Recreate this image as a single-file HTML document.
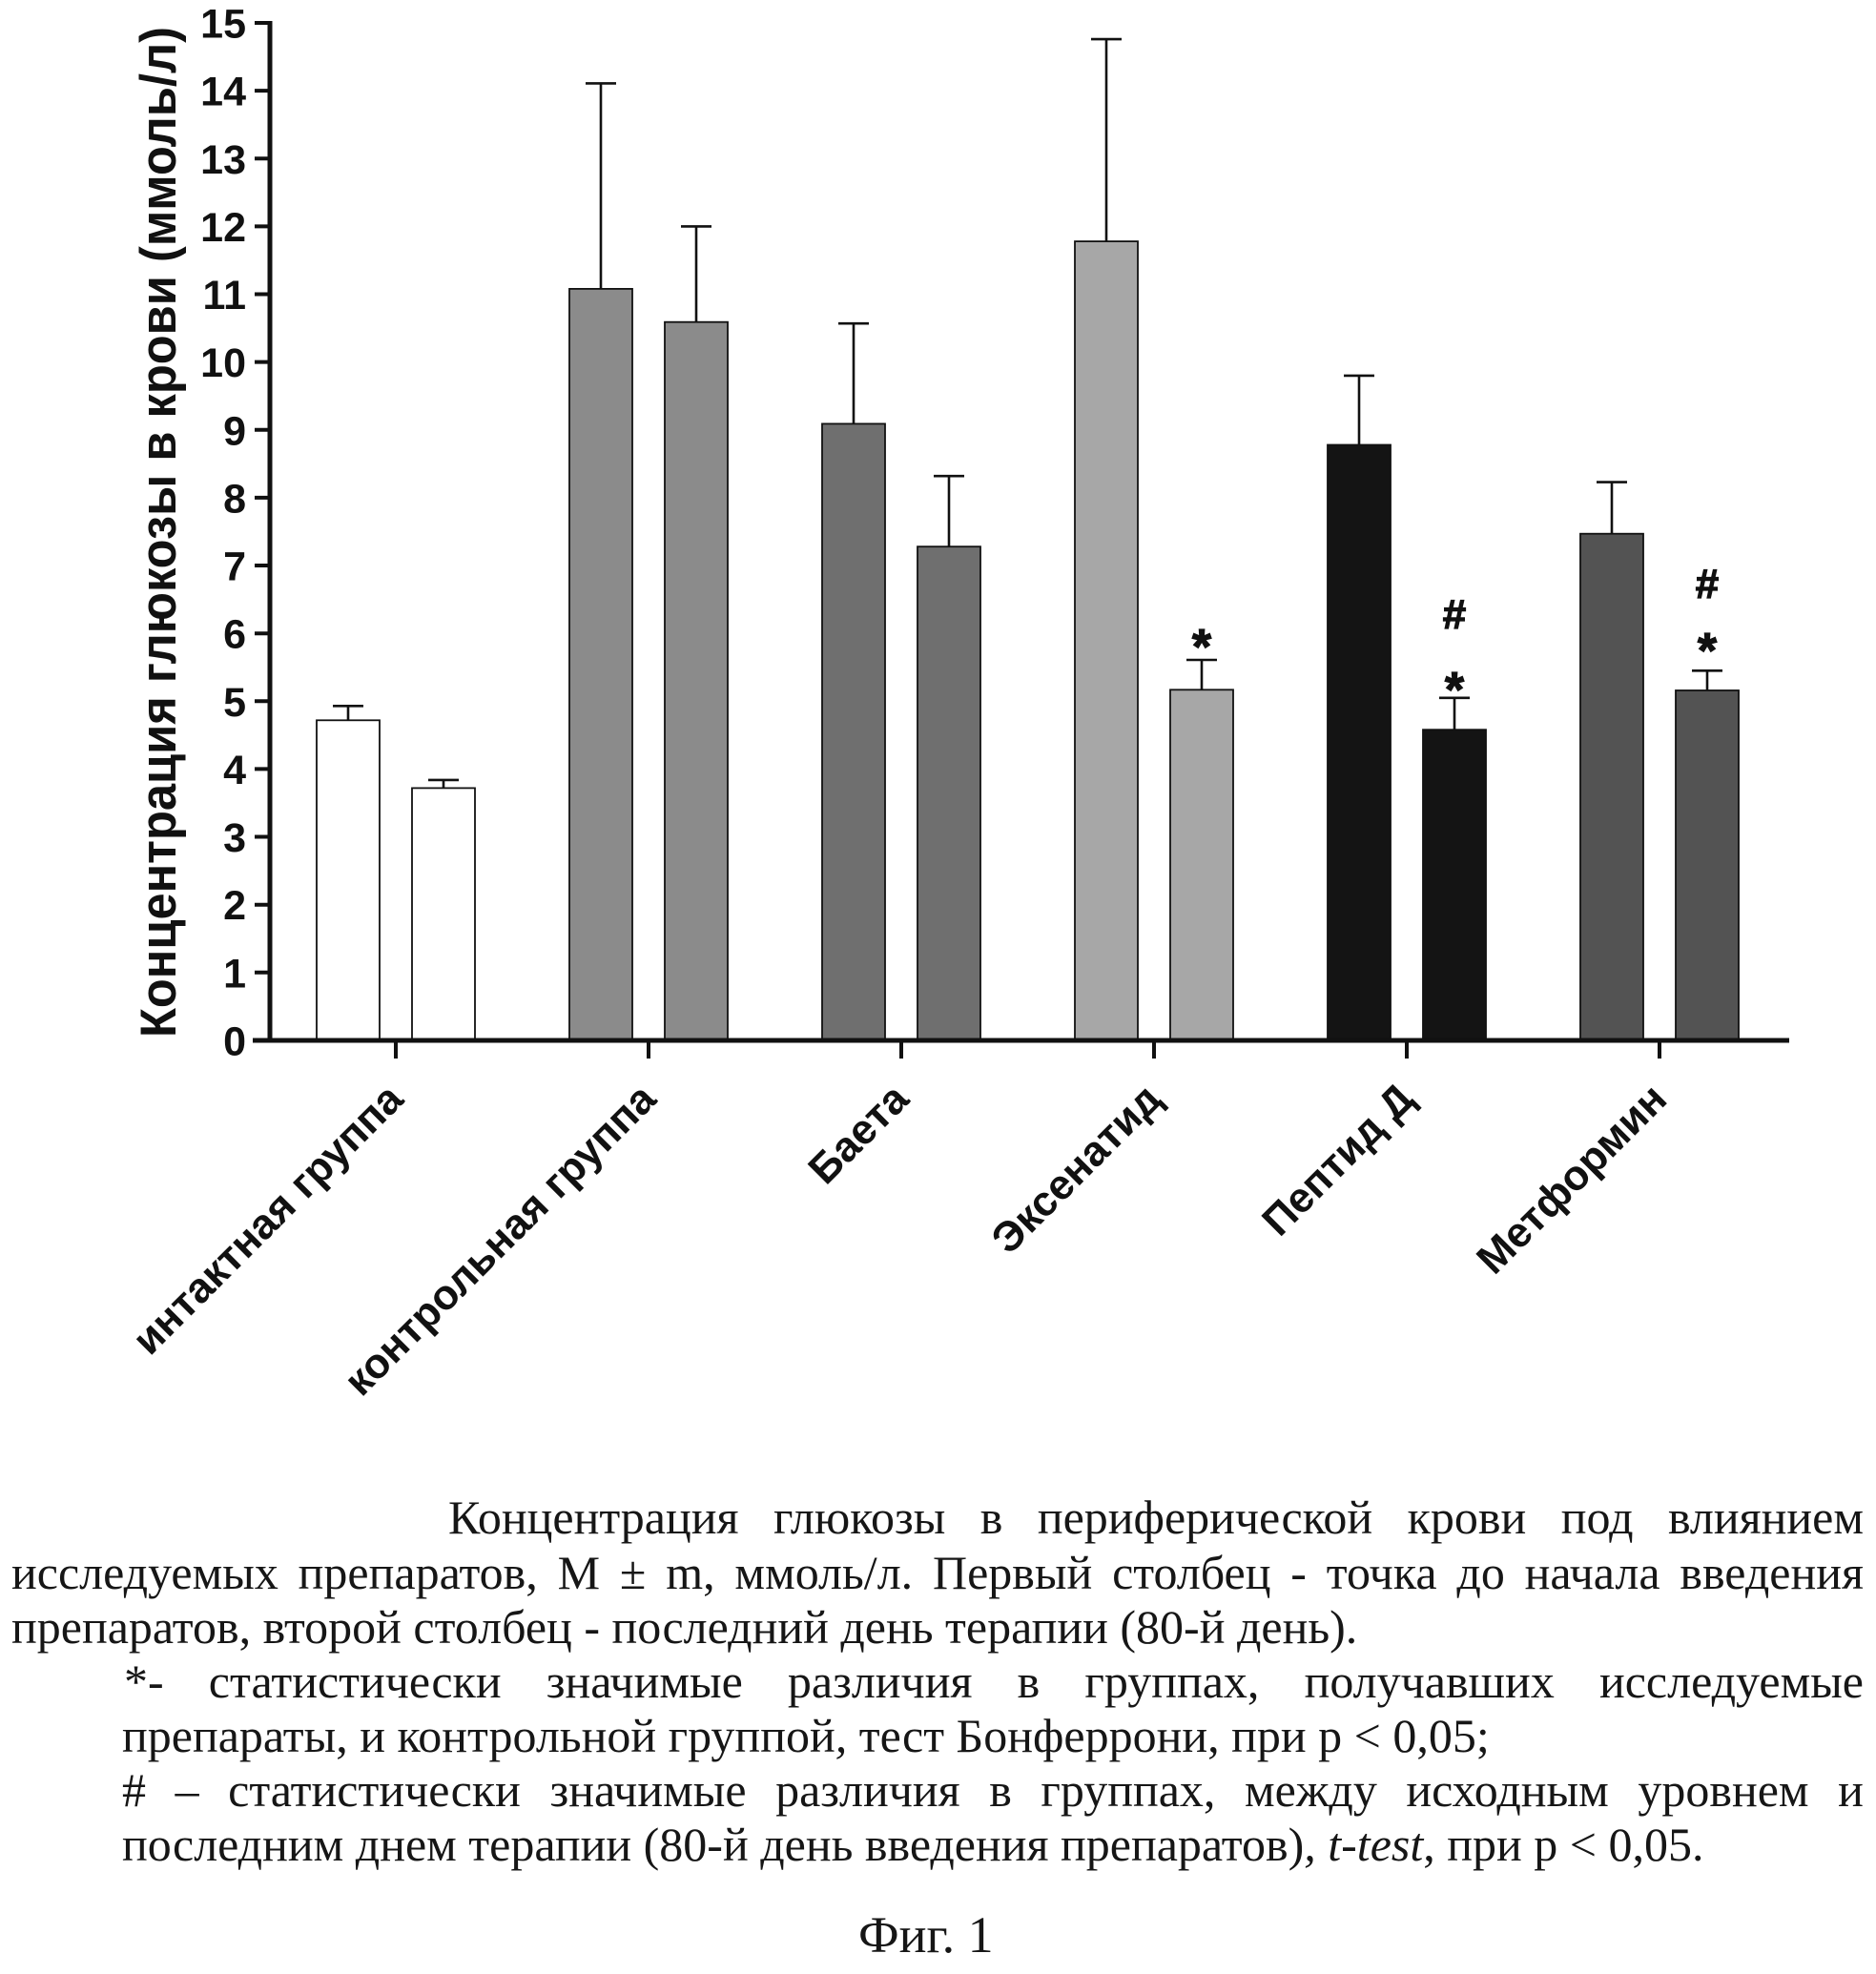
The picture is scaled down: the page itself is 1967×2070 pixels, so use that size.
<!DOCTYPE html>
<html>
<head>
<meta charset="utf-8">
<style>
  html, body { margin:0; padding:0; background:#fff; }
  body { width:1967px; height:2070px; position:relative; overflow:hidden; }
  svg { position:absolute; left:0; top:0; }
  .ln { position:absolute; white-space:nowrap; font-family:"Liberation Serif","DejaVu Serif",serif; font-size:50px; line-height:50px; color:#161616; }
  .j { display:flex; justify-content:space-between; }
</style>
</head>
<body>
<svg width="1967" height="2070" viewBox="0 0 1967 2070" xmlns="http://www.w3.org/2000/svg">
  <g font-family="'Liberation Sans', 'DejaVu Sans', sans-serif" font-weight="bold" fill="#111">
    <!-- Y axis title -->
    <text transform="translate(184,1088) rotate(-90)" font-size="53" textLength="1060" lengthAdjust="spacingAndGlyphs">Концентрация глюкозы в крови (ммоль/л)</text>
    <!-- Y tick labels -->
    <g font-size="43" text-anchor="end">
      <text x="258" y="1106.5">0</text>
      <text x="258" y="1035.4">1</text>
      <text x="258" y="964.2">2</text>
      <text x="258" y="893.1">3</text>
      <text x="258" y="822.0">4</text>
      <text x="258" y="750.9">5</text>
      <text x="258" y="679.7">6</text>
      <text x="258" y="608.6">7</text>
      <text x="258" y="537.5">8</text>
      <text x="258" y="466.3">9</text>
      <text x="258" y="395.2">10</text>
      <text x="258" y="324.1">11</text>
      <text x="258" y="253.0">12</text>
      <text x="258" y="181.8">13</text>
      <text x="258" y="110.7">14</text>
      <text x="258" y="39.6">15</text>
    </g>
  </g>

  <!-- Bars -->
  <g stroke="#111" stroke-width="1.8">
    <!-- intact -->
    <rect x="332" y="755.3" width="66" height="335.7" fill="#ffffff"/>
    <rect x="432" y="826.4" width="66" height="264.6" fill="#ffffff"/>
    <!-- control -->
    <rect x="597" y="302.9" width="66" height="788.1" fill="#8b8b8b"/>
    <rect x="697" y="337.7" width="66" height="753.3" fill="#8b8b8b"/>
    <!-- baeta -->
    <rect x="862" y="444.4" width="66" height="646.6" fill="#6f6f6f"/>
    <rect x="962" y="573.2" width="66" height="517.8" fill="#6f6f6f"/>
    <!-- exenatide -->
    <rect x="1127" y="253.1" width="66" height="837.9" fill="#a7a7a7"/>
    <rect x="1227" y="723.3" width="66" height="367.7" fill="#a7a7a7"/>
    <!-- peptide -->
    <rect x="1392" y="466.5" width="66" height="624.5" fill="#141414"/>
    <rect x="1492" y="765.2" width="66" height="325.8" fill="#141414"/>
    <!-- metformin -->
    <rect x="1657" y="559.7" width="66" height="531.3" fill="#535353"/>
    <rect x="1757" y="724.0" width="66" height="367.0" fill="#535353"/>
  </g>

  <!-- Error bars -->
  <g stroke="#111" stroke-width="2.6" fill="none">
    <path d="M365 755.3V740.3M349 740.3H381"/>
    <path d="M465 826.4V817.9M449 817.9H481"/>
    <path d="M630 302.9V87.4M614 87.4H646"/>
    <path d="M730 337.7V237.4M714 237.4H746"/>
    <path d="M895 444.4V339.2M879 339.2H911"/>
    <path d="M995 573.2V499.2M979 499.2H1011"/>
    <path d="M1160 253.1V41.1M1144 41.1H1176"/>
    <path d="M1260 723.3V692.0M1244 692.0H1276"/>
    <path d="M1425 466.5V393.9M1409 393.9H1441"/>
    <path d="M1525 765.2V731.8M1509 731.8H1541"/>
    <path d="M1690 559.7V505.6M1674 505.6H1706"/>
    <path d="M1790 724.0V703.3M1774 703.3H1806"/>
  </g>

  <!-- Axes -->
  <g stroke="#111" fill="none">
    <path d="M283 22V1093.5" stroke-width="5"/>
    <path d="M265 1091H1876" stroke-width="5"/>
    <g stroke-width="4">
      <path d="M267 24H283M267 95.1H283M267 166.3H283M267 237.4H283M267 308.5H283M267 379.6H283M267 450.8H283M267 521.9H283M267 593H283M267 664.2H283M267 735.3H283M267 806.4H283M267 877.5H283M267 948.7H283M267 1019.8H283"/>
      <path d="M415 1091V1110M680 1091V1110M945 1091V1110M1210 1091V1110M1475 1091V1110M1740 1091V1110"/>
    </g>
  </g>

  <!-- Significance marks -->
  <g font-family="'Liberation Sans', 'DejaVu Sans', sans-serif" font-weight="bold" fill="#111" stroke="#111" stroke-width="1.2" text-anchor="middle">
    <text x="1260" y="696" font-size="52">*</text>
    <text x="1525" y="659" font-size="44">#</text>
    <text x="1525" y="741" font-size="52">*</text>
    <text x="1790" y="627" font-size="44">#</text>
    <text x="1790" y="700" font-size="52">*</text>
  </g>

  <!-- X labels -->
  <g font-family="'Liberation Sans', 'DejaVu Sans', sans-serif" font-weight="bold" font-size="44" fill="#111" text-anchor="end">
    <text transform="translate(425,1155) rotate(-45)">интактная группа</text>
    <text transform="translate(690,1155) rotate(-45)">контрольная группа</text>
    <text transform="translate(955,1155) rotate(-45)">Баета</text>
    <text transform="translate(1220,1155) rotate(-45)">Эксенатид</text>
    <text transform="translate(1485,1155) rotate(-45)">Пептид Д</text>
    <text transform="translate(1750,1155) rotate(-45)">Метформин</text>
  </g>
</svg>

<!-- Caption -->
<div class="ln j" style="left:470px; top:1566px; width:1484px;">
  <span>Концентрация</span><span>глюкозы</span><span>в</span><span>периферической</span><span>крови</span><span>под</span><span>влиянием</span>
</div>
<div class="ln j" style="left:12px; top:1624px; width:1942px;">
  <span>исследуемых</span><span>препаратов,</span><span>M</span><span>±</span><span>m,</span><span>ммоль/л.</span><span>Первый</span><span>столбец</span><span>-</span><span>точка</span><span>до</span><span>начала</span><span>введения</span>
</div>
<div class="ln" style="left:12px; top:1681px;">препаратов, второй столбец - последний день терапии (80-й день).</div>
<div class="ln j" style="left:130px; top:1738px; width:1824px;">
  <span>*-</span><span>статистически</span><span>значимые</span><span>различия</span><span>в</span><span>группах,</span><span>получавших</span><span>исследуемые</span>
</div>
<div class="ln" style="left:128px; top:1795px;">препараты, и контрольной группой<i>,</i> тест Бонферрони, при p &lt; 0,05;</div>
<div class="ln j" style="left:128px; top:1852px; width:1826px;">
  <span>#</span><span>–</span><span>статистически</span><span>значимые</span><span>различия</span><span>в</span><span>группах,</span><span>между</span><span>исходным</span><span>уровнем</span><span>и</span>
</div>
<div class="ln" style="left:128px; top:1909px;">последним днем терапии (80-й день введения препаратов)<i>,</i> <i>t-test</i>, при p &lt; 0,05.</div>
<div class="ln" style="left:900px; top:2002px; font-size:54px; line-height:54px;">Фиг. 1</div>
</body>
</html>
